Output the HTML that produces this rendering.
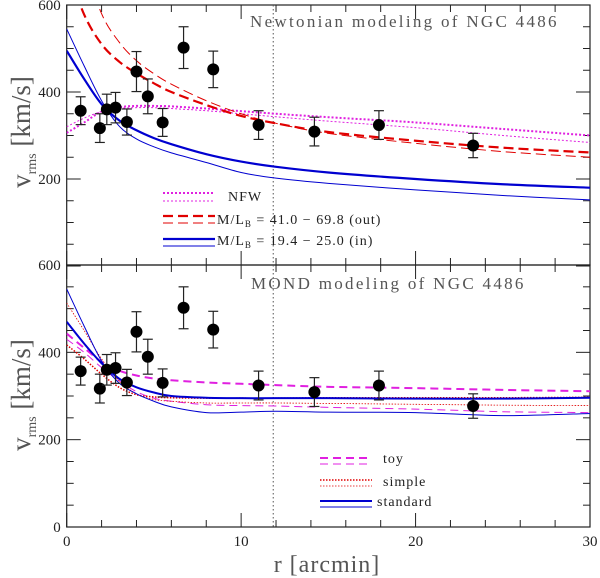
<!DOCTYPE html>
<html><head><meta charset="utf-8"><style>
body{margin:0;background:#fff}
svg{display:block}
text{font-family:"Liberation Serif",serif}
</style></head><body>
<svg id="chart" width="600" height="578" viewBox="0 0 600 578">
<defs>
<clipPath id="clipTop"><rect x="66.7" y="5" width="523.3" height="260"/></clipPath>
<clipPath id="clipBot"><rect x="66.7" y="265" width="523.3" height="262"/></clipPath>
</defs>
<g id="axes"></g>
<g id="curves"></g>
<g id="points"></g>
<text x="250" y="27" font-size="17" fill="#555" letter-spacing="2.3">Newtonian modeling of NGC 4486</text>
<text x="251" y="289" font-size="17" fill="#555" letter-spacing="2.3">MOND modeling of NGC 4486</text>
<g font-size="14" fill="#222" letter-spacing="1">
<line x1="163" y1="193" x2="215" y2="193" stroke="#e020e0" stroke-width="2" stroke-dasharray="2,2"/>
<line x1="163" y1="201" x2="215" y2="201" stroke="#e020e0" stroke-width="1" stroke-dasharray="2,2"/>
<text x="228" y="201">NFW</text>
<line x1="163" y1="216" x2="215" y2="216" stroke="#e00000" stroke-width="2.2" stroke-dasharray="10,5"/>
<line x1="163" y1="223" x2="215" y2="223" stroke="#e00000" stroke-width="1" stroke-dasharray="10,5"/>
<text x="217" y="224">M/L<tspan font-size="9" dy="3">B</tspan><tspan dy="-3"> = 41.0 − 69.8 (out)</tspan></text>
<line x1="163" y1="239" x2="215" y2="239" stroke="#0000d0" stroke-width="2.2"/>
<line x1="163" y1="246" x2="215" y2="246" stroke="#0000d0" stroke-width="1"/>
<text x="217" y="245">M/L<tspan font-size="9" dy="3">B</tspan><tspan dy="-3"> = 19.4 − 25.0 (in)</tspan></text>
</g>
<g font-size="14" fill="#222" letter-spacing="1">
<line x1="320" y1="458" x2="372" y2="458" stroke="#e020e0" stroke-width="2" stroke-dasharray="8,5"/>
<line x1="320" y1="464" x2="372" y2="464" stroke="#e020e0" stroke-width="1" stroke-dasharray="8,5"/>
<text x="383" y="463">toy</text>
<line x1="320" y1="480" x2="372" y2="480" stroke="#e00000" stroke-width="1.5" stroke-dasharray="1.5,1.5"/>
<line x1="320" y1="486" x2="372" y2="486" stroke="#e00000" stroke-width="0.8" stroke-dasharray="1.5,1.5"/>
<text x="383" y="486">simple</text>
<line x1="320" y1="501" x2="372" y2="501" stroke="#0000d0" stroke-width="2"/>
<line x1="320" y1="507" x2="372" y2="507" stroke="#0000d0" stroke-width="1"/>
<text x="377" y="506">standard</text>
</g>
<text x="327" y="572" font-size="24" fill="#555" text-anchor="middle" letter-spacing="1">r [arcmin]</text>
<text transform="translate(30,132) rotate(-90)" font-size="27" fill="#555" text-anchor="middle">v<tspan font-size="14" dy="6">rms</tspan><tspan dy="-6"> [km/s]</tspan></text>
<text transform="translate(30,395) rotate(-90)" font-size="27" fill="#555" text-anchor="middle">v<tspan font-size="14" dy="6">rms</tspan><tspan dy="-6"> [km/s]</tspan></text>
</svg>
<script>
const dataR = [0.8,1.9,2.3,2.8,3.45,4.0,4.65,5.5,6.7,8.4,11.0,14.2,17.9,23.3];
const dataV = [357,317,360,364,331,447,390,330,502,452,324,309,324,277];
const dataErr = [32,33,35,35,30,46,40,32,48,42,33,33,33,28];
const modelR = [0,1,2,3,4,5,6,8,10,12,15,20,25,30];
const nfwThick = [306,330,355,365,368,368,367,362,356,350,342,330,315,300];
const nfwThin = [320,340,355,362,364,364,362,357,350,343,333,318,300,284];
const outThick = [690,578,510,470,443,420,400,370,345,328,308,288,272,261];
const outThin = [820,700,580,515,472,442,418,380,350,328,305,282,263,250];
const inThick = [495,430,372,335,312,294,280,257,240,228,215,200,188,180];
const inThin = [545,460,380,322,292,274,260,238,215,202,190,175,162,152];
const toyThick = [443,410,378,358,347,340,336,331,328,325,321,318,314,311];
const toyThin = [430,400,365,335,310,295,288,280,278,277,274,270,264,262];
const simpleThick = [417,385,350,320,303,298,296,295,295,295,296,296,296,297];
const simpleThin = [513,450,385,335,305,292,288,284,284,284,283,281,279,278];
const stdThick = [470,420,375,340,320,308,300,296,295,295,295,294,294,296];
const stdThin = [545,460,380,330,305,288,275,262,263,265,263,262,255,260];
const xTicks = [0,10,20,30];
const yTicks = [0,200,400,600];

const NS='http://www.w3.org/2000/svg';
const X0=66.7,X1=590;
const xs=r=>X0+(X1-X0)*r/30;
const yTop=v=>266-v*(261/600);
const yBot=v=>527-v*(262/600);
function mk(tag,attrs,parent){const e=document.createElementNS(NS,tag);for(const k in attrs)e.setAttribute(k,attrs[k]);parent.appendChild(e);return e;}
const axes=document.getElementById('axes');
const curves=document.getElementById('curves');
const points=document.getElementById('points');

function panelAxes(ys,top,bottom,name){
  const fr=mk('rect',{x:X0,y:top,width:X1-X0,height:bottom-top,fill:'none',stroke:'#222','stroke-width':1.2},axes);
  
  
  for(let r=0;r<=30;r+=2){
    const big=r%10===0, L=big?14:7;
    mk('line',{x1:xs(r),y1:bottom,x2:xs(r),y2:bottom-L,stroke:'#222'},axes);
    mk('line',{x1:xs(r),y1:top,x2:xs(r),y2:top+L,stroke:'#222'},axes);
  }
  for(let v=0;v<=600;v+=50){
    const big=v%200===0, L=big?14:7;
    mk('line',{x1:X0,y1:ys(v),x2:X0+L,y2:ys(v),stroke:'#222'},axes);
    mk('line',{x1:X1,y1:ys(v),x2:X1-L,y2:ys(v),stroke:'#222'},axes);
  }
  yTicks.forEach(v=>{
    if(name==='top' && v===0) return;
    const t=mk('text',{x:X0-6,y:ys(v)+5,'font-size':15,'text-anchor':'end',fill:'#222','font-family':'Liberation Sans, sans-serif'},axes);
    t.textContent=v;
    
    
  });
  mk('line',{x1:xs(11.84),y1:top,x2:xs(11.84),y2:bottom,stroke:'#555','stroke-dasharray':'1.5,2.5'},axes);
}
panelAxes(yTop,5,265,'top');
panelAxes(yBot,265,527,'bottom');
xTicks.forEach(r=>{
  const t=mk('text',{x:xs(r),y:546,'font-size':15,'text-anchor':'middle',fill:'#222','font-family':'Liberation Sans, sans-serif'},axes);
  t.textContent=r;
  
  
});

function pathD(vals,ys){
  const p=modelR.map((r,i)=>[xs(r),ys(vals[i])]);
  let d='M'+p[0][0]+','+p[0][1];
  for(let i=0;i<p.length-1;i++){
    const p0=p[Math.max(0,i-1)],p1=p[i],p2=p[i+1],p3=p[Math.min(p.length-1,i+2)];
    const c1=[p1[0]+(p2[0]-p0[0])/6,p1[1]+(p2[1]-p0[1])/6];
    const c2=[p2[0]-(p3[0]-p1[0])/6,p2[1]-(p3[1]-p1[1])/6];
    d+=` C${c1[0]},${c1[1]} ${c2[0]},${c2[1]} ${p2[0]},${p2[1]}`;
  }
  return d;
}
function curve(vals,ys,clip,color,w,dash,name){
  const e=mk('path',{d:pathD(vals,ys),fill:'none',stroke:color,'stroke-width':w,'clip-path':'url(#'+clip+')'},curves);
  if(dash)e.setAttribute('stroke-dasharray',dash);
  
  
}
curve(nfwThick,yTop,'clipTop','#e020e0',2,'2,2','nfw-thick');
curve(nfwThin,yTop,'clipTop','#e020e0',1,'2,2','nfw-thin');
curve(outThick,yTop,'clipTop','#e00000',2.2,'10,5','out-thick');
curve(outThin,yTop,'clipTop','#e00000',1,'10,5','out-thin');
curve(inThick,yTop,'clipTop','#0000d0',2.2,null,'in-thick');
curve(inThin,yTop,'clipTop','#0000d0',1,null,'in-thin');
curve(toyThick,yBot,'clipBot','#e020e0',2,'8,5','toy-thick');
curve(toyThin,yBot,'clipBot','#e020e0',1,'8,5','toy-thin');
curve(simpleThick,yBot,'clipBot','#e00000',1.5,'1.5,1.5','simple-thick');
curve(simpleThin,yBot,'clipBot','#e00000',0.8,'1.5,1.5','simple-thin');
curve(stdThick,yBot,'clipBot','#0000d0',2,null,'standard-thick');
curve(stdThin,yBot,'clipBot','#0000d0',1,null,'standard-thin');

[[yTop,'top'],[yBot,'bottom']].forEach(([ys,nm])=>{
  dataR.forEach((r,i)=>{
    const g=mk('g',{},points);
    
    
    const x=xs(r),y1=ys(dataV[i]+dataErr[i]),y2=ys(dataV[i]-dataErr[i]);
    mk('line',{x1:x,y1:y1,x2:x,y2:y2,stroke:'#222','stroke-width':1.2},g);
    mk('line',{x1:x-5,y1:y1,x2:x+5,y2:y1,stroke:'#222','stroke-width':1.2},g);
    mk('line',{x1:x-5,y1:y2,x2:x+5,y2:y2,stroke:'#222','stroke-width':1.2},g);
    mk('circle',{cx:x,cy:ys(dataV[i]),r:6,fill:'#000'},g);
  });
});
</script>
</body></html>
